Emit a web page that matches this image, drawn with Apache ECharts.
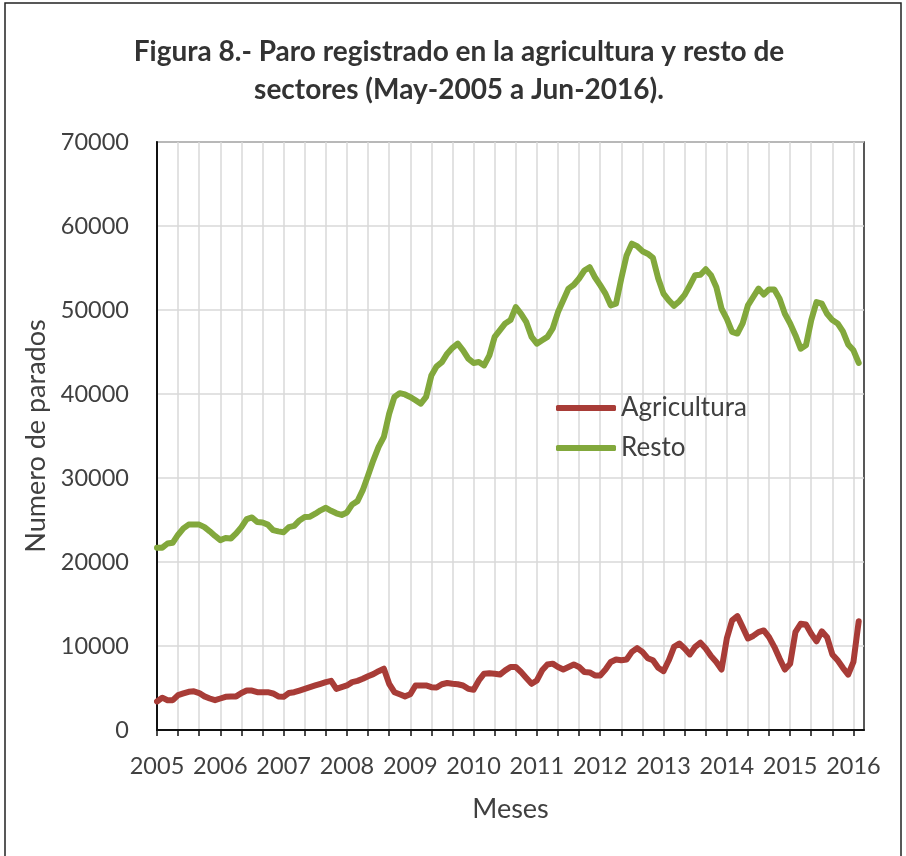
<!DOCTYPE html>
<html>
<head>
<meta charset="utf-8">
<script src="https://cdn.jsdelivr.net/npm/echarts@6/dist/echarts.min.js"></script>
<style>
  html, body { margin: 0; padding: 0; background: #fff; }
  #chart { width: 906px; height: 856px; }
</style>
</head>
<body>
<div id="chart"></div>
<script>
// meses: may-2005 .. jun-2016 (+1 hueco al final, como en la figura original)
const meses = []
for (let i = 0; i < 135; i++) {
  const y = 2005 + Math.floor((4 + i) / 12)
  const m = ((4 + i) % 12) + 1
  meses.push(y + '-' + String(m).padStart(2, '0'))
}

const years = ['2005', '2006', '2007', '2008', '2009', '2010', '2011', '2012', '2013', '2014', '2015', '2016']

const agricultura = [
  3400, 3850, 3550, 3550, 4150, 4350, 4550, 4600, 4400, 4000, 3750, 3550,
  3750, 3950, 4000, 4000, 4400, 4700, 4700, 4500, 4500, 4500, 4350, 4000,
  3950, 4400, 4500, 4700, 4900, 5100, 5300, 5500, 5700, 5850, 4900, 5100,
  5300, 5700, 5850, 6100, 6400, 6650, 7000, 7300, 5500, 4500, 4250, 4000,
  4250, 5300, 5300, 5300, 5100, 5050, 5450, 5600, 5500, 5450, 5300, 4900,
  4800, 5900, 6700, 6750, 6700, 6600, 7100, 7500, 7500, 6900, 6200, 5500,
  5900, 7100, 7800, 7900, 7500, 7200, 7500, 7800, 7500, 6900, 6850, 6500,
  6500, 7200, 8100, 8400, 8300, 8400, 9300, 9750, 9300, 8550, 8300, 7400,
  7000, 8300, 9900, 10300, 9700, 9000, 9900, 10400, 9700, 8800, 8100, 7200,
  10900, 13050, 13550, 12250, 10900, 11200, 11650, 11850, 11050, 9900, 8500, 7200,
  7900, 11650, 12650, 12550, 11450, 10550, 11750, 11050, 9000, 8300, 7400, 6600,
  8100, 12950
]

const resto = [
  21700, 21700, 22200, 22300, 23250, 24000, 24450, 24450, 24450, 24150, 23650, 23100,
  22600, 22850, 22800, 23400, 24150, 25100, 25300, 24750, 24700, 24450, 23800, 23650,
  23550, 24150, 24300, 24950, 25350, 25400, 25750, 26150, 26450, 26100, 25800, 25600,
  25900, 26850, 27250, 28550, 30300, 32100, 33700, 34900, 37650, 39650, 40100, 39950,
  39650, 39250, 38850, 39650, 42200, 43300, 43800, 44800, 45500, 46000, 45200, 44200,
  43700, 43800, 43400, 44600, 46800, 47600, 48400, 48800, 50350, 49550, 48550, 46800,
  46000, 46400, 46800, 47800, 49750, 51150, 52550, 53000, 53750, 54700, 55100, 53900,
  52950, 51950, 50550, 50750, 53750, 56500, 57900, 57600, 57000, 56700, 56200, 53750,
  51950, 51150, 50500, 51050, 51800, 52950, 54150, 54200, 54850, 54150, 52750, 50150,
  48950, 47400, 47200, 48400, 50550, 51550, 52550, 51850, 52450, 52450, 51350, 49550,
  48400, 47000, 45400, 45800, 48800, 50950, 50750, 49550, 48800, 48400, 47450, 45900,
  45200, 43700
]

const FONT = 'Lato, "Open Sans", sans-serif'
const TXT = '#404040'

const chart = echarts.init(document.getElementById('chart'))

chart.setOption({
  backgroundColor: '#fff',
  animation: false,
  title: {
    text: 'Figura 8.- Paro registrado en la agricultura y resto de\nsectores (May-2005 a Jun-2016).',
    left: 459,
    textAlign: 'center',
    top: 33,
    padding: 0,
    textStyle: {
      fontFamily: FONT,
      fontSize: 28,
      fontWeight: 'bold',
      color: '#333',
      lineHeight: 38
    }
  },
  graphic: [
    {
      type: 'rect',
      shape: { x: 5, y: 3, width: 896, height: 880 },
      style: { fill: 'none', stroke: '#222', lineWidth: 1.5 },
      silent: true
    }
  ],
  legend: {
    orient: 'vertical',
    left: 556,
    top: 395,
    padding: 0,
    itemWidth: 60,
    itemHeight: 6,
    itemGap: 14,
    icon: 'roundRect',
    textStyle: { fontFamily: FONT, fontSize: 26, color: TXT },
    data: ['Agricultura', 'Resto']
  },
  grid: {
    left: 157,
    right: 42,
    top: 142,
    bottom: 126,
    show: true,
    borderColor: '#222',
    borderWidth: 1.5
  },
  xAxis: {
    type: 'category',
    data: meses,
    boundaryGap: false,
    name: 'Meses',
    nameLocation: 'middle',
    nameGap: 66,
    nameTextStyle: { fontFamily: FONT, fontSize: 27, color: TXT },
    axisLine: { lineStyle: { color: '#111', width: 2 } },
    axisTick: { interval: 3, length: 6, lineStyle: { color: '#111', width: 1.5 } },
    axisLabel: {
      interval: 11,
      margin: 24,
      fontFamily: FONT,
      fontSize: 23.5,
      color: TXT,
      formatter: (v, i) => years[i / 12]
    },
    splitLine: { show: true, interval: 3, lineStyle: { color: '#d9d9d9', width: 1.5 } }
  },
  yAxis: {
    type: 'value',
    min: 0,
    max: 70000,
    interval: 10000,
    name: 'Numero de parados',
    nameLocation: 'middle',
    nameGap: 106,
    nameTextStyle: { fontFamily: FONT, fontSize: 27, color: TXT },
    axisLine: { show: true, lineStyle: { color: '#111', width: 2 } },
    axisTick: { show: false },
    axisLabel: {
      margin: 28,
      fontFamily: FONT,
      fontSize: 23.5,
      color: TXT,
      formatter: v => String(v)
    },
    splitLine: { lineStyle: { color: '#d9d9d9', width: 1.5 } }
  },
  series: [
    {
      name: 'Agricultura',
      type: 'line',
      data: agricultura,
      showSymbol: false,
      color: '#a83c37',
      lineStyle: { width: 6, cap: 'round', join: 'round' }
    },
    {
      name: 'Resto',
      type: 'line',
      data: resto,
      showSymbol: false,
      color: '#82a83c',
      lineStyle: { width: 6, cap: 'round', join: 'round' }
    }
  ]
})
</script>
</body>
</html>
